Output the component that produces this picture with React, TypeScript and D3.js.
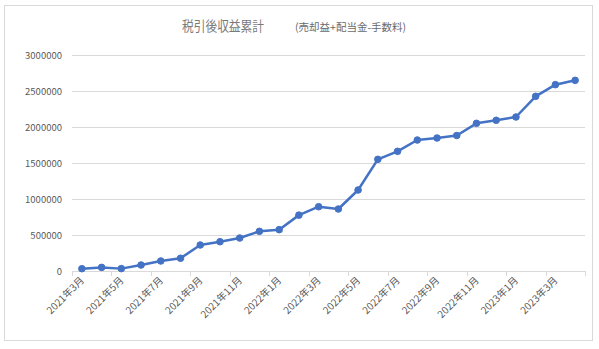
import React from "react";
import * as d3 from "d3";

const months: string[] = [
  "2021年3月", "2021年4月", "2021年5月", "2021年6月", "2021年7月", "2021年8月",
  "2021年9月", "2021年10月", "2021年11月", "2021年12月", "2022年1月", "2022年2月",
  "2022年3月", "2022年4月", "2022年5月", "2022年6月", "2022年7月", "2022年8月",
  "2022年9月", "2022年10月", "2022年11月", "2022年12月", "2023年1月", "2023年2月",
  "2023年3月", "2023年4月",
];
const values: number[] = [
  32000, 50000, 33000, 83000, 139000, 177000,
  361000, 407000, 458000, 551000, 574000, 776000,
  893000, 861000, 1125000, 1551000, 1662000, 1819000,
  1847000, 1882000, 2051000, 2093000, 2139000, 2426000,
  2588000, 2648000,
];
const yTicks: number[] = [0, 500000, 1000000, 1500000, 2000000, 2500000, 3000000];
const titleMain = "税引後収益累計";
const titleSub = "(売却益+配当金-手数料)";

const W = 599;
const H = 349;
const left = 72;
const right = 585;
const top = 55;
const bottom = 271;
const FONT = "'Noto Sans CJK JP', 'Noto Sans', sans-serif";

export default function App() {
  const x = d3.scaleBand<string>().domain(months).range([left, right]).paddingInner(0).paddingOuter(0);
  const y = d3.scaleLinear().domain([0, 3000000]).range([bottom, top]);
  const cx = (m: string) => (x(m) ?? 0) + x.bandwidth() / 2;
  const line = d3
    .line<number>()
    .x((_, i) => cx(months[i]))
    .y((d) => y(d));
  const tickIdx = months.map((_, i) => i).filter((i) => i % 2 === 0);
  return (
    <div style={{ position: "absolute", left: 0, top: 0 }}>
      <svg width={W} height={H} style={{ display: "block", background: "#fff" }}>
        <rect x={4.5} y={5.5} width={588} height={335} fill="#fff" stroke="#d9d9d9" strokeWidth={1} />
        <text x={182} y={30.5} fontFamily={FONT} fontSize={13.5} fill="#7a7a7a" textLength={82} lengthAdjust="spacingAndGlyphs">{titleMain}</text>
        <text x={295} y={30.5} fontFamily={FONT} fontSize={10.5} fill="#6a6a6a">{titleSub}</text>
        {yTicks.map((t) => (
          <g key={t}>
            {t !== 0 && (
              <line x1={left} x2={right} y1={Math.round(y(t)) + 0.5} y2={Math.round(y(t)) + 0.5} stroke="#d9d9d9" strokeWidth={1} />
            )}
            <text x={62} y={y(t) + 3.5} textAnchor="end" fontFamily={FONT} fontSize={9.5} fill="#595959">
              {t}
            </text>
          </g>
        ))}
        <line x1={left} x2={right} y1={bottom + 0.5} y2={bottom + 0.5} stroke="#d9d9d9" strokeWidth={1} />
        {tickIdx.map((i) => (
          <line key={"t" + i} x1={Math.round(x(months[i]) ?? 0) + 0.5} x2={Math.round(x(months[i]) ?? 0) + 0.5} y1={bottom} y2={bottom + 5} stroke="#d9d9d9" />
        ))}
        <line x1={right + 0.5} x2={right + 0.5} y1={bottom} y2={bottom + 5} stroke="#d9d9d9" />
        {tickIdx.map((i) => (
          <text
            key={"l" + i}
            transform={`translate(${cx(months[i]) + 3},${bottom + 10}) rotate(-45)`}
            textAnchor="end"
            fontFamily={FONT}
            fontSize={10}
            fill="#595959"
          >
            {months[i]}
          </text>
        ))}
        <path d={line(values) ?? ""} fill="none" stroke="#4472C4" strokeWidth={2.5} strokeLinejoin="round" />
        {values.map((v, i) => (
          <circle key={"c" + i} cx={cx(months[i])} cy={y(v)} r={3.3} fill="#4472C4" stroke="#4472C4" strokeWidth={1} />
        ))}
      </svg>
    </div>
  );
}
